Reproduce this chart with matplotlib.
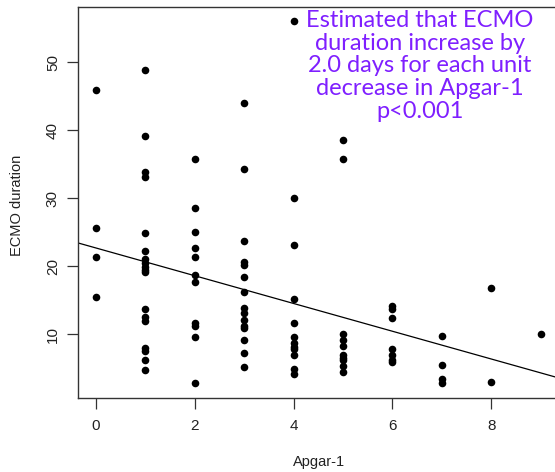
import matplotlib
matplotlib.use("Agg")
import matplotlib.pyplot as plt
import numpy as np

# Data: ECMO duration (days) for each Apgar-1 score
apgar_scores = [0, 1, 2, 3, 4, 5, 6, 7, 8, 9]
dur_0 = [45.9, 25.7, 21.4, 15.5]
dur_1 = [48.9, 39.1, 33.8, 33.1, 24.9, 22.3, 21.1, 20.5, 19.9, 19.5, 19.2,
         13.8, 12.6, 11.9, 8.0, 7.6, 6.3, 4.7]
dur_2 = [35.8, 28.5, 25.0, 22.7, 21.3, 18.7, 17.7, 11.6, 11.2, 9.6, 2.9]
dur_3 = [44.0, 34.3, 23.7, 20.6, 20.2, 18.5, 16.2, 13.9, 13.1, 12.1, 11.2,
         10.9, 9.2, 7.2, 5.2]
dur_4 = [56.0, 30.1, 23.1, 15.2, 11.6, 9.6, 8.7, 8.2, 7.8, 7.0, 4.9, 4.2]
dur_5 = [38.6, 35.8, 10.0, 9.1, 8.3, 6.9, 6.6, 6.2, 5.3, 4.5]
dur_6 = [14.2, 13.8, 12.4, 7.9, 6.9, 6.3, 5.9]
dur_7 = [9.7, 5.5, 3.4, 2.9]
dur_8 = [16.8, 3.0]
dur_9 = [10.0]
durations = [dur_0, dur_1, dur_2, dur_3, dur_4, dur_5, dur_6, dur_7, dur_8, dur_9]

fit_intercept = 22.7
fit_slope = -2.04

x_ticks = [0, 2, 4, 6, 8]
y_ticks = [10, 20, 30, 40, 50]

annotation = ("Estimated that ECMO\nduration increase by\n2.0 days for each unit\n"
              "decrease in Apgar-1\np<0.001")

apgar = []
duration = []
for sc, vals in zip(apgar_scores, durations):
    apgar += [sc] * len(vals)
    duration += vals

W, H = 555, 472
fig = plt.figure(figsize=(W/100, H/100), dpi=100)
ax = fig.add_axes([78/W, 1 - 398/H, (558.5-78)/W, (398-7)/H])

ax.scatter(apgar, duration, s=30, color='black', zorder=3, linewidths=0)
ax.axline((0, fit_intercept), slope=fit_slope, color='black', lw=0.9, zorder=2)

ax.set_xlim(-0.36, 9.36)
ax.set_ylim(0.65, 58.1)
ax.set_xticks(x_ticks)
ax.set_yticks(y_ticks)
ax.set_xticklabels([str(t) for t in x_ticks], fontsize=11, family='Liberation Sans', color='#222222')
ax.set_yticklabels([str(t) for t in y_ticks], fontsize=11, family='Liberation Sans', color='#222222',
                   rotation=90, va='center')
ax.tick_params(axis='both', length=8, width=0.9, color='#333333', pad=7)
ax.tick_params(axis='y', pad=5)
for s in ax.spines.values():
    s.set_color('#333333')
    s.set_linewidth(1.0)

fig.text(17/W, 1 - 205/H, "ECMO duration", rotation=90, ha='center', va='center',
         fontsize=10.5, family='Liberation Sans', color='#222222')
fig.text(319/W, 1 - 462/H, "Apgar-1", ha='center', va='center',
         fontsize=10.5, family='Liberation Sans', color='#222222')

fig.text(420/W, 1 - 10/H, annotation, ha='center', va='top', fontsize=17,
         family='Lato', color='#7F1FFF', linespacing=1.1)

fig.savefig("out.png", dpi=100)
